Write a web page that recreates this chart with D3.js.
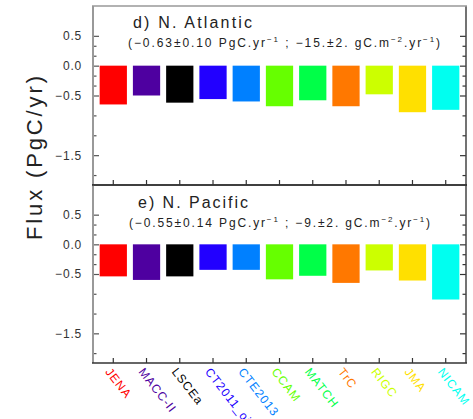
<!DOCTYPE html>
<html><head><meta charset="utf-8">
<script src="https://cdn.jsdelivr.net/npm/d3@7"></script>
<style>
html,body{margin:0;padding:0;background:#fff;}
svg{display:block;font-family:"Liberation Sans",Arial,sans-serif;}
</style></head>
<body>
<svg id="c" width="473" height="419"></svg>
<script>
const categories = ["JENA","MACC-II","LSCEa","CT2011_oi","CTE2013","CCAM","MATCH","TrC","RIGC","JMA","NICAM"];
const colors = ["#ff0000","#4e00a0","#000000","#2200ff","#0080ff","#66ff00","#00ff48","#ff7800","#ccff00","#ffe000","#00fff0"];
const atlanticValues = [-0.65,-0.50,-0.62,-0.56,-0.60,-0.68,-0.58,-0.68,-0.48,-0.78,-0.74];
const pacificValues  = [-0.54,-0.60,-0.54,-0.43,-0.43,-0.59,-0.53,-0.65,-0.44,-0.61,-0.93];
const majorTicks = [0.5, 0, -0.5, -1.5];
const minorTicks = [1/3, 1/6, -1/6, -1/3, -5/6, -7/6, -11/6];
const yDomain = [-2, 1];
const panels = [
  {values: atlanticValues, title: "d) N. Atlantic", pg: "−0.63±0.10", gc: "−15.±2.",
   top: 6, bottom: 185, tx: 133, ty: 28, tw: 119, sx: 128, sy: 47, sw: 312},
  {values: pacificValues, title: "e) N. Pacific", pg: "−0.55±0.14", gc: "−9.±2.",
   top: 185, bottom: 363, tx: 138, ty: 208, tw: 110, sx: 129, sy: 227, sw: 301}
];

const svg = d3.select("#c");
const left = 93, right = 466;
const x = d3.scaleBand().domain(categories).range([left, right]).paddingInner(0.18).paddingOuter(0.2);
const cx = c => x(c) + x.bandwidth()/2;
const fmt = d3.format(".1f");

panels.forEach((p, pi) => {
  const y = d3.scaleLinear().domain(yDomain).range([p.bottom, p.top]);
  const g = svg.append("g");
  // bars
  g.selectAll("rect.bar").data(p.values).join("rect")
    .attr("x", (d,i) => x(categories[i]))
    .attr("width", x.bandwidth())
    .attr("y", d => y(Math.max(0,d)))
    .attr("height", d => Math.abs(y(d) - y(0)))
    .attr("fill", (d,i) => colors[i]);

  // left axis major
  const la = g.append("g").attr("transform", `translate(${left},0)`)
    .call(d3.axisLeft(y).tickValues(majorTicks).tickSize(-6).tickPadding(11).tickFormat(fmt));
  la.select(".domain").remove();
  la.selectAll("line").attr("stroke","#555").attr("stroke-width",1.2);
  la.selectAll("text").attr("font-size",12).attr("fill","#333").style("letter-spacing","0.8px");
  const lm = g.append("g").attr("transform", `translate(${left},0)`)
    .call(d3.axisLeft(y).tickValues(minorTicks).tickSize(-3.5).tickFormat(""));
  lm.select(".domain").remove();
  lm.selectAll("line").attr("stroke","#555").attr("stroke-width",1.2);

  // right axis
  const ra = g.append("g").attr("transform", `translate(${right},0)`)
    .call(d3.axisRight(y).tickValues(majorTicks).tickSize(-6).tickFormat(""));
  ra.select(".domain").remove();
  ra.selectAll("line").attr("stroke","#333").attr("stroke-width",1.2);
  const rm = g.append("g").attr("transform", `translate(${right},0)`)
    .call(d3.axisRight(y).tickValues(minorTicks).tickSize(-3.5).tickFormat(""));
  rm.select(".domain").remove();
  rm.selectAll("line").attr("stroke","#333").attr("stroke-width",1.2);

  // bottom ticks
  const ba = g.append("g").attr("transform", `translate(0,${p.bottom})`)
    .call(d3.axisBottom(x).tickSize(-5).tickFormat(""));
  ba.select(".domain").remove();
  ba.selectAll("line").attr("stroke","#333").attr("stroke-width",1.2);

  // frame
  g.append("line").attr("x1",left).attr("x2",left).attr("y1",p.top).attr("y2",p.bottom).attr("stroke","#999").attr("stroke-width",2);
  g.append("line").attr("x1",right).attr("x2",right).attr("y1",p.top).attr("y2",p.bottom).attr("stroke","#444").attr("stroke-width",1.5);
  g.append("line").attr("x1",left-1).attr("x2",right+1).attr("y1",p.top).attr("y2",p.top).attr("stroke", pi===0 ? "#999" : "#333").attr("stroke-width",1.5);
  g.append("line").attr("x1",left-1).attr("x2",right+1).attr("y1",p.bottom).attr("y2",p.bottom).attr("stroke","#333").attr("stroke-width",1.5);

  // titles
  g.append("text").attr("x",p.tx).attr("y",p.ty).attr("font-size",16).attr("fill","#222")
    .attr("textLength",p.tw).attr("lengthAdjust","spacing").text(p.title);
  const s = g.append("text").attr("x",p.sx).attr("y",p.sy).attr("font-size",12).attr("fill","#222")
    .attr("textLength",p.sw).attr("lengthAdjust","spacing");
  s.append("tspan").text("(" + p.pg + " PgC.yr");
  s.append("tspan").attr("dy",-5).attr("font-size",8).text("−1");
  s.append("tspan").attr("dy",5).text(" ; " + p.gc + " gC.m");
  s.append("tspan").attr("dy",-5).attr("font-size",8).text("−2");
  s.append("tspan").attr("dy",5).text(".yr");
  s.append("tspan").attr("dy",-5).attr("font-size",8).text("−1");
  s.append("tspan").attr("dy",5).text(")");
});

// x labels
svg.append("g").selectAll("text").data(categories).join("text")
  .attr("transform", d => `translate(${cx(d)-1},366) rotate(52)`)
  .attr("dy","0.8em")
  .attr("font-size",12)
  .style("letter-spacing","1px")
  .attr("fill",(d,i) => colors[i])
  .text(d => d);

// y title
svg.append("text")
  .attr("transform","translate(42,158) rotate(-90)")
  .attr("text-anchor","middle")
  .attr("font-size",22)
  .attr("fill","#222")
  .attr("textLength",164).attr("lengthAdjust","spacing")
  .text("Flux (PgC/yr)");
</script>
</body></html>
